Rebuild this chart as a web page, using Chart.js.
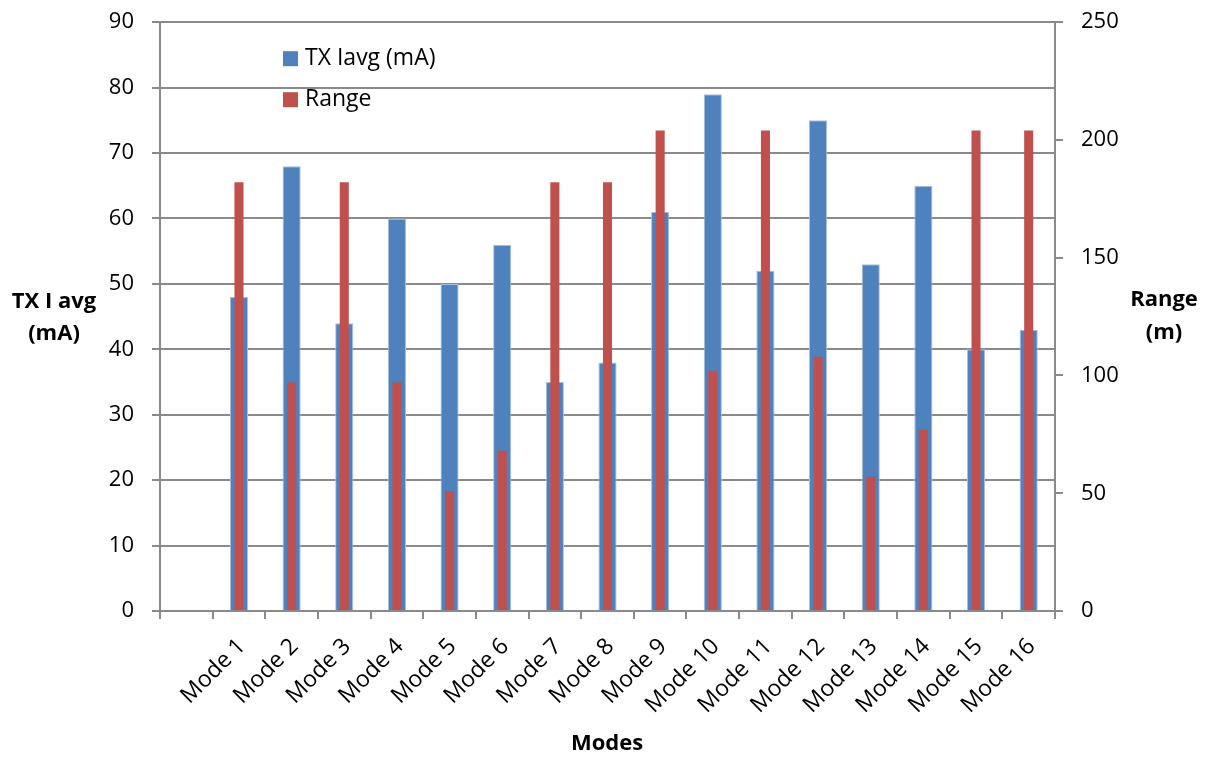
<!DOCTYPE html>
<html lang="en">
<head>
  <meta charset="UTF-8" />
  <title>TX Iavg and Range by Mode</title>
  <script src="https://cdn.jsdelivr.net/npm/chart.js"></script>
  <style>
    body { margin: 0; background: #fff; overflow: hidden; }
    /* chart.js keeps ~30px above the top gridline; pull the canvas up a little */
    #modesChart { display: block; margin-top: -9px; }
  </style>
</head>
<body>
  <canvas id="modesChart" width="1213" height="768"></canvas>

  <script>
    // first slot is empty, as in the original sheet
    const modes = ['', 'Mode 1', 'Mode 2', 'Mode 3', 'Mode 4', 'Mode 5', 'Mode 6', 'Mode 7', 'Mode 8',
      'Mode 9', 'Mode 10', 'Mode 11', 'Mode 12', 'Mode 13', 'Mode 14', 'Mode 15', 'Mode 16'];
    const txIavg = [null, 48, 68, 44, 60, 50, 56, 35, 38, 61, 79, 52, 75, 53, 65, 40, 43];
    const rangeM = [null, 182, 97, 182, 97, 51, 68, 182, 182, 204, 102, 204, 108, 57, 77, 204, 204];
    const leftTicks = [0, 10, 20, 30, 40, 50, 60, 70, 80, 90];
    const rightTicks = [0, 50, 100, 150, 200, 250];

    const FONT = "'Open Sans', sans-serif";
    const gridCol = '#8a8a8a';
    const SHIFT = 9;

    // legend inside the plot + horizontal axis titles
    const overlay = {
      id: 'overlay',
      afterDraw(chart) {
        const ctx = chart.ctx;
        const a = chart.chartArea;
        ctx.save();
        ctx.textBaseline = 'middle';
        ctx.textAlign = 'left';
        ctx.font = '23px ' + FONT;
        chart.data.datasets.forEach((ds, i) => {
          const y = a.top + 36 + i * 41;
          ctx.fillStyle = ds.backgroundColor;
          ctx.fillRect(a.left + 123, y - 7, 15, 15);
          ctx.fillStyle = '#000';
          ctx.fillText(ds.label, a.left + 145, y);
        });

        ctx.font = 'bold 22px ' + FONT;
        ctx.textAlign = 'center';
        ctx.fillText('TX I avg', 54, 302 + SHIFT);
        ctx.fillText('(mA)', 54, 334 + SHIFT);
        ctx.fillText('Range', 1164, 300 + SHIFT);
        ctx.fillText('(m)', 1164, 333 + SHIFT);
        ctx.fillText('Modes', 607, 744 + SHIFT);
        ctx.restore();
      }
    };

    new Chart(document.getElementById('modesChart'), {
      type: 'bar',
      data: {
        labels: modes,
        datasets: [
          {
            label: 'TX Iavg (mA)',
            data: txIavg,
            yAxisID: 'y',
            backgroundColor: '#4f81bd',
            borderColor: '#a9c1e0',
            borderWidth: 1,
            grouped: false,
            categoryPercentage: 1,
            barPercentage: 0.345,
            order: 2
          },
          {
            label: 'Range',
            data: rangeM,
            yAxisID: 'y1',
            backgroundColor: '#c0504d',
            grouped: false,
            categoryPercentage: 1,
            barPercentage: 0.172,
            order: 1
          }
        ]
      },
      options: {
        responsive: false,
        animation: false,
        layout: { padding: { top: 11, left: 0, right: 0, bottom: 0 } },
        plugins: {
          legend: { display: false },
          tooltip: { enabled: false }
        },
        scales: {
          x: {
            grid: { drawOnChartArea: false, color: gridCol, lineWidth: 2, tickLength: 8 },
            border: { color: gridCol, width: 2 },
            ticks: {
              color: '#000', font: { family: FONT, size: 23 },
              maxRotation: 45, minRotation: 45, padding: 14, labelOffset: 3, autoSkip: false
            },
            afterFit: s => { s.height = 148; }
          },
          y: {
            position: 'left',
            min: 0, max: 90,
            afterBuildTicks: s => { s.ticks = leftTicks.map(v => ({ value: v })); },
            grid: { color: gridCol, lineWidth: 2, tickLength: 8 },
            border: { color: gridCol, width: 2 },
            ticks: { color: '#000', font: { family: FONT, size: 22 }, padding: 18 },
            afterFit: s => { s.width = 160; }
          },
          y1: {
            position: 'right',
            min: 0, max: 250,
            afterBuildTicks: s => { s.ticks = rightTicks.map(v => ({ value: v })); },
            grid: { drawOnChartArea: false, color: gridCol, lineWidth: 2, tickLength: 8 },
            border: { color: gridCol, width: 2 },
            ticks: { color: '#000', font: { family: FONT, size: 22 }, padding: 18 },
            afterFit: s => { s.width = 158; }
          }
        }
      },
      plugins: [overlay]
    });
  </script>
</body>
</html>
